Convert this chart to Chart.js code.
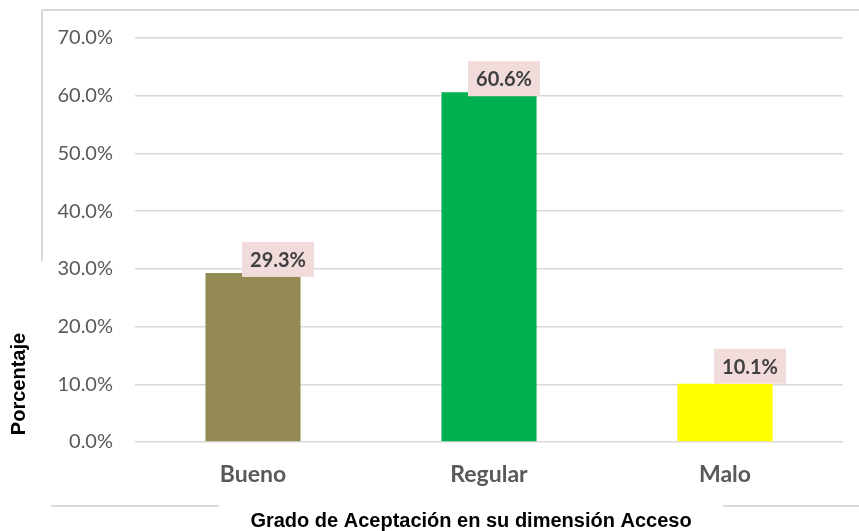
<!DOCTYPE html>
<html>
<head>
<meta charset="utf-8">
<script src="https://cdn.jsdelivr.net/npm/chart.js@4"></script>
<style>
html,body{margin:0;padding:0;background:#fff;}
#wrap{width:859px;height:531px;position:relative;}
</style>
</head>
<body>
<div id="wrap"><canvas id="c" width="859" height="531"></canvas></div>
<script>
const categories = ["Bueno", "Regular", "Malo"];
const values = [29.3, 60.6, 10.1];
const barColors = ["#948A54", "#00B050", "#FFFF00"];
const yTicks = [0, 10, 20, 30, 40, 50, 60, 70];
const xTitle = "Grado de Aceptación en su dimensión Acceso";
const yTitle = "Porcentaje";

const labelStyle = { dx: [25, 15, 25], dy: [4, 4, 0], w: 72, h: 35 };

const decorPlugin = {
  id: 'decor',
  beforeDraw(chart) {
    const ctx = chart.ctx;
    ctx.save();
    ctx.strokeStyle = '#d9d9d9';
    ctx.lineWidth = 2;
    ctx.beginPath();
    ctx.moveTo(42, 10); ctx.lineTo(859, 10);
    ctx.moveTo(42, 10); ctx.lineTo(42, 261);
    ctx.moveTo(51, 506); ctx.lineTo(219, 506);
    ctx.moveTo(723, 506); ctx.lineTo(859, 506);
    ctx.stroke();
    ctx.restore();
  },
  afterDraw(chart) {
    const ctx = chart.ctx;
    const meta = chart.getDatasetMeta(0);
    ctx.save();
    meta.data.forEach((bar, i) => {
      const cx = bar.x + labelStyle.dx[i];
      const bottom = bar.y + labelStyle.dy[i];
      ctx.fillStyle = '#F2DCDB';
      ctx.fillRect(cx - labelStyle.w / 2, bottom - labelStyle.h, labelStyle.w, labelStyle.h);
      ctx.fillStyle = '#404040';
      ctx.font = 'bold 20px Lato';
      ctx.textAlign = 'center';
      ctx.textBaseline = 'middle';
      ctx.fillText(values[i].toFixed(1) + '%', cx, bottom - labelStyle.h / 2 + 1);
    });
    // titles
    ctx.fillStyle = '#000';
    ctx.font = 'bold 20px "Liberation Sans"';
    ctx.textAlign = 'center';
    ctx.textBaseline = 'middle';
    ctx.fillText(xTitle, 471, 521);
    ctx.translate(19, 384);
    ctx.rotate(-Math.PI / 2);
    ctx.fillText(yTitle, 0, 0);
    ctx.restore();
  }
};

new Chart(document.getElementById('c'), {
  type: 'bar',
  data: {
    labels: categories,
    datasets: [{
      data: values,
      backgroundColor: barColors,
      borderWidth: 0,
      categoryPercentage: 1,
      barPercentage: 0.403
    }]
  },
  options: {
    responsive: false,
    animation: false,
    devicePixelRatio: 1,
    layout: { padding: { top: 38, right: 16, left: 0, bottom: 0 } },
    plugins: { legend: { display: false }, tooltip: { enabled: false } },
    scales: {
      x: {
        grid: { display: false, drawTicks: false },
        border: { display: false },
        ticks: { color: '#595959', font: { family: 'Lato', size: 23, weight: 'bold' }, padding: 19 },
        afterFit(s) { s.height = 89; }
      },
      y: {
        min: 0, max: 70,
        afterBuildTicks(s) { s.ticks = yTicks.map(v => ({ value: v })); },
        grid: { color: '#d9d9d9', lineWidth: 1.5, drawTicks: false },
        border: { display: false },
        ticks: {
          color: '#595959',
          font: { family: 'Lato', size: 20 },
          padding: 22,
          callback: v => v.toFixed(1) + '%'
        },
        afterFit(s) { s.width = 135; }
      }
    }
  },
  plugins: [decorPlugin]
});
</script>
</body>
</html>
